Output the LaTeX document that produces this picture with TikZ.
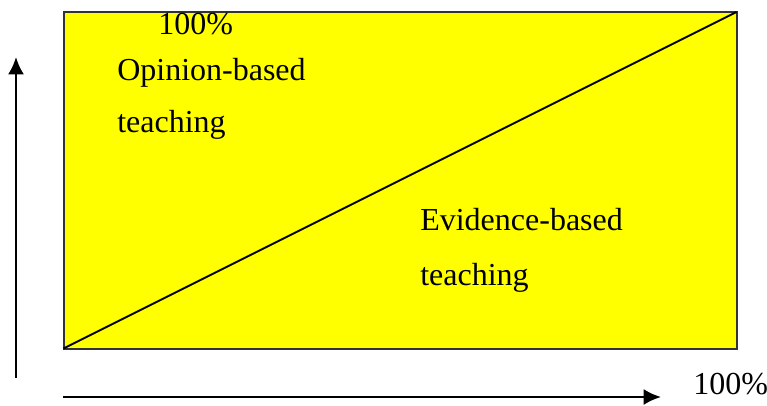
\documentclass[tikz,border=0pt]{standalone}
\usepackage{fontspec}
\setmainfont{Liberation Serif}
\usetikzlibrary{arrows.meta}
\definecolor{boxyellow}{RGB}{255,255,0}

\begin{document}
\begin{tikzpicture}[x=0.75pt,y=-0.75pt,
    lbl/.style={anchor=base west,inner sep=0pt,font=\fontsize{24}{28}\selectfont},
    axis/.style={line width=1.8pt,-{Latex[length=13pt,width=12pt]}}]
\useasboundingbox (0,0) rectangle (767,405);

% box
\coordinate (sw) at (63.5,348.5);
\coordinate (ne) at (736.5,12);
\draw[fill=boxyellow,draw=black!80,line width=1.5pt] (sw) rectangle (ne);
%diagonal
\draw[line width=1.4pt] (sw)--(ne);

%axes
\coordinate (ybot) at (16,378);
\coordinate (ytop) at (16,57);
\coordinate (xleft) at (63,397);
\coordinate (xright) at (661,397);
\draw[axis] (ybot)--(ytop);
\draw[axis] (xleft)--(xright);

%labels
\node[lbl] (ytxt) at (158,34) {100\%};
\node[lbl] (opin) at (117,80) {Opinion-based};
\node[lbl] (opinb) at (117,132) {teaching};
\node[lbl] (evid) at (420,230) {Evidence-based};
\node[lbl] (evidb) at (420,285) {teaching};
\node[lbl] (xtxt) at (693,394) {100\%};
\end{tikzpicture}
\end{document}
